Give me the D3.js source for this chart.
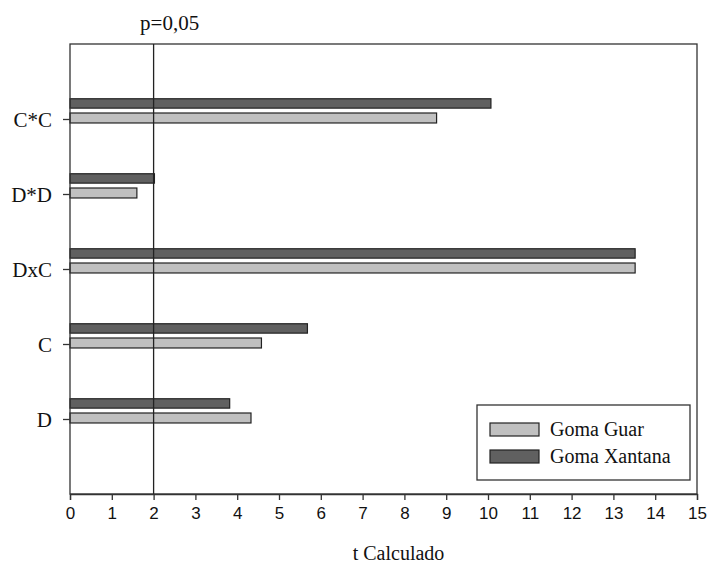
<!DOCTYPE html>
<html>
<head>
  <script src="https://d3js.org/d3.v7.min.js"></script>
  <style>
    body { margin: 0; background: #fff; }
  </style>
</head>
<body>
<svg width="707" height="564"></svg>
<script>
  // data
  var categories = ["D", "C", "DxC", "D*D", "C*C"];
  var gomaGuar = [4.33, 4.58, 13.52, 1.60, 8.77];
  var gomaXantana = [3.82, 5.68, 13.52, 2.02, 10.07];
  var seriesNames = ["Goma Guar", "Goma Xantana"];
  var xTicks = d3.range(0, 16);
  var pLine = 2;

  var serif = "'Liberation Serif', 'Times New Roman', Times, serif";
  var sans = "'Liberation Sans Narrow', 'Liberation Sans', Arial, sans-serif";

  var svg = d3.select("svg"),
    margin = {top: 44, right: 10, bottom: 70, left: 70},
    width = +svg.attr("width") - margin.left - margin.right,
    height = +svg.attr("height") - margin.top - margin.bottom;

  var x = d3.scaleLinear().domain([0, 15]).range([0, width]);
  var y = d3.scaleLinear().domain([0, categories.length + 1]).range([height, 0]);

  var g = svg.append("g")
    .attr("transform", "translate(" + margin.left + "," + margin.top + ")");

  var colors = ["#c0c0c0", "#606060"];
  var data = categories.map(function(c, i) {
    return {cat: c, pos: i + 1, guar: gomaGuar[i], xant: gomaXantana[i]};
  });

  // bars: light (guar) sits on the tick, dark (xantana) above it
  g.selectAll(".guar").data(data).enter().append("rect")
    .attr("class", "guar")
    .attr("x", x(0))
    .attr("y", function(d) { return y(d.pos + 0.08); })
    .attr("width", function(d) { return x(d.guar) - x(0); })
    .attr("height", y(0) - y(0.133))
    .attr("fill", colors[0])
    .attr("stroke", "#222")
    .attr("stroke-width", 1.2);

  g.selectAll(".xant").data(data).enter().append("rect")
    .attr("class", "xant")
    .attr("x", x(0))
    .attr("y", function(d) { return y(d.pos + 0.27); })
    .attr("width", function(d) { return x(d.xant) - x(0); })
    .attr("height", y(0) - y(0.125))
    .attr("fill", colors[1])
    .attr("stroke", "#222")
    .attr("stroke-width", 1.2);

  // frame
  g.append("rect")
    .attr("width", width)
    .attr("height", height)
    .attr("fill", "none")
    .attr("stroke", "#333")
    .attr("stroke-width", 1.3);

  // p=0,05 line
  g.append("line")
    .attr("x1", x(pLine)).attr("x2", x(pLine))
    .attr("y1", 0).attr("y2", height)
    .attr("stroke", "#222")
    .attr("stroke-width", 1.3);

  svg.append("text")
    .attr("x", margin.left + x(pLine) + 16)
    .attr("y", 30)
    .attr("text-anchor", "middle")
    .style("font-family", serif)
    .style("font-size", "21px")
    .attr("fill", "#111")
    .text("p=0,05");

  // x axis
  var xAxis = d3.axisBottom(x).tickValues(xTicks).tickSize(6).tickPadding(7).tickFormat(d3.format("d"));
  var xg = g.append("g")
    .attr("transform", "translate(0," + height + ")")
    .call(xAxis);
  xg.select(".domain").attr("stroke", "#333").attr("stroke-width", 1.3);
  xg.selectAll(".tick line").attr("stroke", "#333").attr("stroke-width", 1.3);
  xg.selectAll(".tick text")
    .style("font-family", sans)
    .style("font-size", "17px")
    .attr("fill", "#111");

  // y axis
  var yAxis = d3.axisLeft(y).tickValues(data.map(function(d) { return d.pos; }))
    .tickSize(7).tickPadding(11)
    .tickFormat(function(v) { return categories[v - 1]; });
  var yg = g.append("g").call(yAxis);
  yg.select(".domain").remove();
  yg.selectAll(".tick line").attr("stroke", "#333").attr("stroke-width", 1.3);
  yg.selectAll(".tick text")
    .style("font-family", serif)
    .style("font-size", "21px")
    .attr("fill", "#111")
    .attr("dy", "0.35em");

  // x label
  svg.append("text")
    .attr("x", margin.left + width / 2 + 15)
    .attr("y", 560)
    .attr("text-anchor", "middle")
    .style("font-family", serif)
    .style("font-size", "20px")
    .attr("fill", "#111")
    .text("t Calculado");

  // legend
  var legend = svg.append("g").attr("transform", "translate(477,405)");
  legend.append("rect")
    .attr("width", 213).attr("height", 75)
    .attr("fill", "#fff").attr("stroke", "#333").attr("stroke-width", 1.3);
  seriesNames.forEach(function(name, i) {
    legend.append("rect")
      .attr("x", 13).attr("y", 18 + i * 27)
      .attr("width", 49).attr("height", 13)
      .attr("fill", colors[i]).attr("stroke", "#222").attr("stroke-width", 1.2);
    legend.append("text")
      .attr("x", 73).attr("y", 31 + i * 27)
      .style("font-family", serif)
      .style("font-size", "20px")
      .attr("fill", "#111")
      .text(name);
  });
</script>
</body>
</html>
